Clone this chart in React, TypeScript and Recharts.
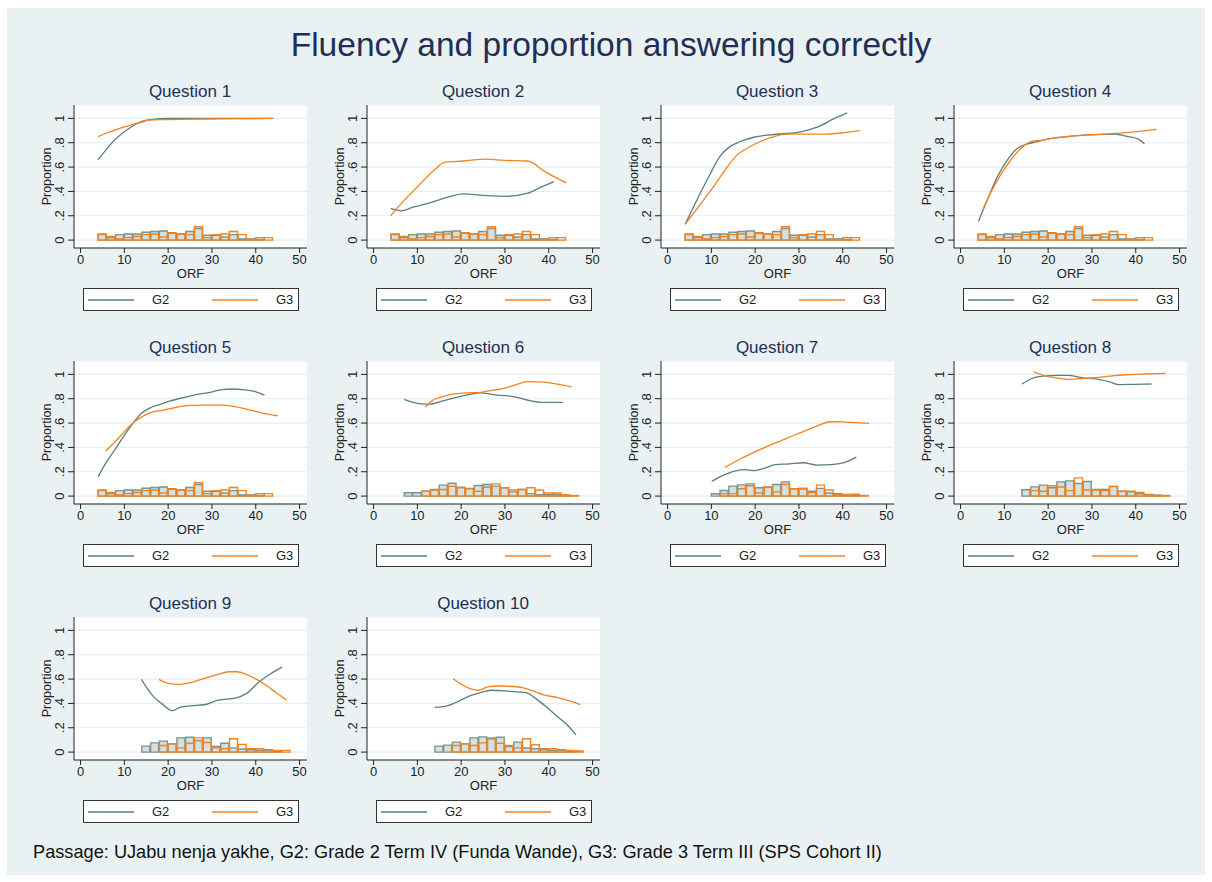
import { ComposedChart, Line, Bar, XAxis, YAxis, CartesianGrid, Legend } from 'recharts'

const FONT = '"Liberation Sans", Arial, Helvetica, sans-serif'
const NAVY = '#1f2f56'
const INK = '#222222'
const G2_COLOR = '#5b7f7a'
const G3_COLOR = '#f5821f'
const G2_FILL = '#d6e0dd'
const G2_EDGE = '#7a958f'
const BG = '#e9f1f3'

type Pt = [number, number]

// lowess curves, [ORF, proportion]
const Q1_G2: Pt[] = [[4, 0.66], [6, 0.75], [8, 0.83], [10, 0.89], [12, 0.94], [14, 0.975], [16, 0.99], [20, 1.0], [30, 1.0], [44, 1.0]]
const Q1_G3: Pt[] = [[4, 0.85], [6, 0.88], [8, 0.905], [10, 0.93], [12, 0.95], [14, 0.97], [15.5, 0.985], [20, 0.99], [30, 0.995], [44, 1.0]]
const Q2_G2: Pt[] = [[3.9, 0.26], [6.3, 0.24], [9, 0.27], [12.8, 0.305], [16.7, 0.35], [20.5, 0.38], [25.9, 0.365], [30.5, 0.36], [35.2, 0.385], [38.2, 0.435], [41.2, 0.48]]
const Q2_G3: Pt[] = [[3.9, 0.2], [7.1, 0.33], [9.8, 0.43], [14, 0.58], [16.3, 0.64], [20.5, 0.65], [25.9, 0.665], [29.8, 0.655], [35.2, 0.65], [39, 0.565], [44, 0.47]]
const Q3_G2: Pt[] = [[4, 0.13], [6.7, 0.33], [9.4, 0.52], [12, 0.69], [14.3, 0.77], [16.6, 0.81], [19.7, 0.845], [23.5, 0.865], [27.4, 0.877], [30.4, 0.89], [34.3, 0.93], [38.1, 1.0], [41, 1.046]]
const Q3_G3: Pt[] = [[4, 0.13], [7.4, 0.29], [10.5, 0.44], [13.6, 0.6], [15.9, 0.7], [18.2, 0.755], [21.2, 0.81], [24.3, 0.85], [27.4, 0.87], [35, 0.87], [39.6, 0.88], [43.9, 0.9]]
const Q4_G2: Pt[] = [[4.1, 0.155], [6.1, 0.33], [8.4, 0.52], [10.7, 0.66], [13, 0.755], [15.3, 0.79], [17.6, 0.81], [19.9, 0.83], [24.5, 0.85], [29.1, 0.864], [35.2, 0.87], [38.3, 0.85], [40.6, 0.83], [42, 0.79]]
const Q4_G3: Pt[] = [[5.1, 0.25], [6.9, 0.39], [9.2, 0.54], [11.5, 0.66], [13.8, 0.755], [16.1, 0.81], [18.4, 0.82], [21.4, 0.84], [25.3, 0.855], [29.1, 0.864], [35.2, 0.877], [39.8, 0.89], [44.8, 0.91]]
const Q5_G2: Pt[] = [[4, 0.16], [6, 0.285], [8, 0.39], [10, 0.5], [12, 0.6], [13.9, 0.68], [15.9, 0.725], [17.9, 0.75], [20.3, 0.78], [23.5, 0.81], [26.7, 0.835], [29.9, 0.855], [32.2, 0.875], [34.6, 0.88], [37, 0.875], [40.2, 0.855], [42, 0.83]]
const Q5_G3: Pt[] = [[5.7, 0.37], [8, 0.45], [10, 0.53], [12.3, 0.61], [14.7, 0.665], [16.3, 0.69], [18.7, 0.705], [21.9, 0.73], [25.1, 0.745], [28.3, 0.747], [32.2, 0.747], [34.6, 0.74], [37.8, 0.715], [41.8, 0.68], [45, 0.66]]
const Q6_G2: Pt[] = [[7, 0.795], [10.4, 0.76], [12.8, 0.755], [15.6, 0.78], [18.8, 0.81], [22, 0.835], [24.4, 0.848], [27.6, 0.832], [30.8, 0.823], [33.2, 0.807], [35.6, 0.785], [38.8, 0.77], [43.2, 0.77]]
const Q6_G3: Pt[] = [[11.8, 0.73], [13.2, 0.78], [15.6, 0.815], [18, 0.837], [21.2, 0.848], [24.4, 0.853], [27.6, 0.872], [30, 0.888], [32.4, 0.913], [35.2, 0.94], [38.8, 0.937], [42, 0.92], [45.2, 0.897]]
const Q7_G2: Pt[] = [[10.1, 0.122], [12.7, 0.17], [15.1, 0.204], [17.5, 0.217], [19.8, 0.21], [22.2, 0.23], [24.6, 0.258], [27.8, 0.264], [31, 0.274], [34.1, 0.255], [37.3, 0.258], [40.1, 0.272], [43.1, 0.32]]
const Q7_G3: Pt[] = [[13.1, 0.236], [16.7, 0.307], [19.8, 0.361], [23, 0.413], [26.2, 0.46], [29.4, 0.508], [32.5, 0.552], [34.9, 0.587], [37.1, 0.611], [39.7, 0.609], [42.9, 0.603], [46, 0.598]]
const Q8_G2: Pt[] = [[14, 0.921], [16.5, 0.97], [18.9, 0.986], [22.1, 0.992], [24.5, 0.992], [27.7, 0.973], [31.7, 0.957], [34.1, 0.938], [36, 0.916], [39.6, 0.918], [43.6, 0.921]]
const Q8_G3: Pt[] = [[16.7, 1.02], [18.9, 0.992], [22.1, 0.97], [24.9, 0.959], [27.7, 0.965], [30.9, 0.973], [34.1, 0.986], [38, 0.997], [42, 1.003], [46.8, 1.008]]
const Q9_G2: Pt[] = [[13.9, 0.598], [15.1, 0.53], [16.7, 0.454], [18.7, 0.394], [20.9, 0.34], [22.7, 0.367], [25.1, 0.38], [28.3, 0.389], [31.4, 0.427], [35.4, 0.443], [37.8, 0.48], [41, 0.584], [43.4, 0.644], [46, 0.698]]
const Q9_G3: Pt[] = [[17.9, 0.598], [20.3, 0.563], [22.7, 0.557], [25.1, 0.571], [28.3, 0.606], [31.4, 0.639], [33.8, 0.66], [35.8, 0.66], [37.8, 0.639], [40.2, 0.598], [42.6, 0.543], [44.6, 0.489], [47, 0.427]]
const Q10_G2: Pt[] = [[14, 0.367], [16.8, 0.38], [19.6, 0.421], [22, 0.462], [24.4, 0.489], [26.8, 0.508], [30, 0.503], [32.4, 0.495], [34.8, 0.489], [37.2, 0.435], [39.6, 0.367], [42, 0.291], [44.4, 0.217], [46.2, 0.141]]
const Q10_G3: Pt[] = [[18.2, 0.603], [20, 0.557], [22, 0.522], [24, 0.508], [26, 0.535], [28.4, 0.543], [30.8, 0.541], [34, 0.53], [36.4, 0.503], [38.8, 0.47], [42, 0.448], [44.8, 0.421], [47.2, 0.389]]

// histograms, [bin centre, density]
const BASE_H2: Pt[] = [[5, 0.05], [7, 0.02], [9, 0.045], [11, 0.05], [13, 0.05], [15, 0.065], [17, 0.07], [19, 0.075], [21, 0.055], [23, 0.05], [25, 0.07], [27, 0.095], [29, 0.04], [31, 0.04], [33, 0.025], [35, 0.045], [37, 0.01], [39, 0.01], [41, 0.005]]
const BASE_H3: Pt[] = [[5, 0.045], [7, 0.03], [9, 0.01], [11, 0.02], [13, 0.03], [15, 0.045], [17, 0.05], [19, 0.025], [21, 0.06], [23, 0.05], [25, 0.045], [27, 0.11], [29, 0.02], [31, 0.045], [33, 0.05], [35, 0.07], [37, 0.045], [39, 0.005], [41, 0.02], [43, 0.02]]
const Q6_H2: Pt[] = [[8, 0.027], [10, 0.027], [12, 0.04], [14, 0.054], [16, 0.09], [18, 0.105], [20, 0.073], [22, 0.063], [24, 0.087], [26, 0.095], [28, 0.082], [30, 0.068], [32, 0.035], [34, 0.054], [36, 0.02], [38, 0.012], [40, 0.012], [42, 0.012], [44, 0.005]]
const Q6_H3: Pt[] = [[12, 0.04], [14, 0.05], [16, 0.054], [18, 0.08], [20, 0.068], [22, 0.06], [24, 0.04], [26, 0.073], [28, 0.1], [30, 0.068], [32, 0.05], [34, 0.054], [36, 0.068], [38, 0.05], [40, 0.025], [42, 0.025], [44, 0.01], [46, 0.005]]
const Q7_H2: Pt[] = [[11, 0.019], [13, 0.046], [15, 0.082], [17, 0.092], [19, 0.1], [21, 0.068], [23, 0.073], [25, 0.095], [27, 0.117], [29, 0.06], [31, 0.057], [33, 0.04], [35, 0.063], [37, 0.025], [39, 0.019], [41, 0.014], [43, 0.01]]
const Q7_H3: Pt[] = [[13, 0.02], [15, 0.02], [17, 0.06], [19, 0.085], [21, 0.025], [23, 0.075], [25, 0.035], [27, 0.095], [29, 0.06], [31, 0.065], [33, 0.03], [35, 0.09], [37, 0.05], [39, 0.01], [41, 0.01], [43, 0.015], [45, 0.005]]
const Q8_H2: Pt[] = [[15, 0.052], [17, 0.076], [19, 0.09], [21, 0.068], [23, 0.117], [25, 0.125], [27, 0.103], [29, 0.12], [31, 0.054], [33, 0.054], [35, 0.079], [37, 0.04], [39, 0.035], [41, 0.019], [43, 0.014], [45, 0.008]]
const Q8_H3: Pt[] = [[17, 0.045], [19, 0.04], [21, 0.085], [23, 0.075], [25, 0.045], [27, 0.15], [29, 0.05], [31, 0.05], [33, 0.045], [35, 0.08], [37, 0.04], [39, 0.04], [41, 0.03], [43, 0.01], [45, 0.005], [47, 0.005]]
const Q9_H2: Pt[] = [[15, 0.049], [17, 0.076], [19, 0.09], [21, 0.068], [23, 0.117], [25, 0.122], [27, 0.095], [29, 0.117], [31, 0.046], [33, 0.073], [35, 0.035], [37, 0.025], [39, 0.019], [41, 0.014], [43, 0.014], [45, 0.005]]
const Q9_H3: Pt[] = [[19, 0.054], [21, 0.068], [23, 0.035], [25, 0.073], [27, 0.117], [29, 0.079], [31, 0.035], [33, 0.027], [35, 0.109], [37, 0.063], [39, 0.027], [41, 0.027], [43, 0.019], [45, 0.014], [47, 0.014]]
const Q10_H2: Pt[] = [[15, 0.049], [17, 0.057], [19, 0.082], [21, 0.068], [23, 0.117], [25, 0.125], [27, 0.109], [29, 0.122], [31, 0.046], [33, 0.082], [35, 0.033], [37, 0.027], [39, 0.019], [41, 0.014], [43, 0.014], [45, 0.008]]
const Q10_H3: Pt[] = [[19, 0.054], [21, 0.068], [23, 0.054], [25, 0.076], [27, 0.117], [29, 0.073], [31, 0.054], [33, 0.035], [35, 0.109], [37, 0.06], [39, 0.027], [41, 0.027], [43, 0.019], [45, 0.014], [47, 0.01]]

const X_TICKS = [0, 10, 20, 30, 40, 50]
const Y_TICKS = [0, 0.2, 0.4, 0.6, 0.8, 1]
const X_DOMAIN: [number, number] = [-1.5, 51.7]
const Y_DOMAIN: [number, number] = [-0.065, 1.11]
const SERIES = [
  { name: 'G2', color: G2_COLOR },
  { name: 'G3', color: G3_COLOR },
]

const QUESTIONS = [
  { title: 'Question 1', g2: Q1_G2, g3: Q1_G3, h2: BASE_H2, h3: BASE_H3 },
  { title: 'Question 2', g2: Q2_G2, g3: Q2_G3, h2: BASE_H2, h3: BASE_H3 },
  { title: 'Question 3', g2: Q3_G2, g3: Q3_G3, h2: BASE_H2, h3: BASE_H3 },
  { title: 'Question 4', g2: Q4_G2, g3: Q4_G3, h2: BASE_H2, h3: BASE_H3 },
  { title: 'Question 5', g2: Q5_G2, g3: Q5_G3, h2: BASE_H2, h3: BASE_H3 },
  { title: 'Question 6', g2: Q6_G2, g3: Q6_G3, h2: Q6_H2, h3: Q6_H3 },
  { title: 'Question 7', g2: Q7_G2, g3: Q7_G3, h2: Q7_H2, h3: Q7_H3 },
  { title: 'Question 8', g2: Q8_G2, g3: Q8_G3, h2: Q8_H2, h3: Q8_H3 },
  { title: 'Question 9', g2: Q9_G2, g3: Q9_G3, h2: Q9_H2, h3: Q9_H3 },
  { title: 'Question 10', g2: Q10_G2, g3: Q10_G3, h2: Q10_H2, h3: Q10_H3 },
]

const COL_STEP = 293.3
const ROW_STEP = 256

function histRows(h2: Pt[], h3: Pt[]) {
  const rows = new Map<number, { x: number; h2: number; h3: number }>()
  h2.forEach(([x, d]) => rows.set(x, { x, h2: d, h3: 0 }))
  h3.forEach(([x, d]) => {
    const r = rows.get(x)
    if (r) r.h3 = d
    else rows.set(x, { x, h2: 0, h3: d })
  })
  return [...rows.values()].sort((a, b) => a.x - b.x)
}

const fmtY = (v: number) => (v === 0 ? '0' : v === 1 ? '1' : String(v).replace('0.', '.'))

const YTick = (props: any) => {
  const { x, y, payload } = props
  const bx = x - 2
  return (
    <text x={bx} y={y} transform={`rotate(-90 ${bx} ${y})`} textAnchor="middle" fontSize={13} fill={INK} fontFamily={FONT}>
      {fmtY(payload.value)}
    </text>
  )
}

const YLabel = (props: any) => {
  const vb = props.viewBox
  const cx = vb.x + 40.5
  const cy = vb.y + vb.height / 2
  return (
    <text x={cx} y={cy} transform={`rotate(-90 ${cx} ${cy})`} textAnchor="middle" fontSize={12.5} fill={INK} fontFamily={FONT}>
      Proportion
    </text>
  )
}

// legend box drawn like Stata's: white box, two keys
const LegendBox = () => (
  <div
    style={{
      width: 216,
      height: 23,
      boxSizing: 'border-box',
      border: '1px solid #333',
      background: '#fff',
      position: 'relative',
      fontFamily: FONT,
      fontSize: 13,
      color: INK,
    }}
  >
    {SERIES.map((s, i) => (
      <div key={s.name} style={{ position: 'absolute', left: i === 0 ? 4 : 128, top: 0, height: 21, display: 'flex', alignItems: 'center' }}>
        <svg width={46} height={6} style={{ display: 'block' }}>
          <line x1={0} y1={3} x2={46} y2={3} stroke={s.color} strokeWidth={1.5} />
        </svg>
        <span style={{ marginLeft: 18 }}>{s.name}</span>
      </div>
    ))}
  </div>
)

function Panel({ q, idx }: { q: (typeof QUESTIONS)[number]; idx: number }) {
  const col = idx % 4
  const row = Math.floor(idx / 4)
  const ox = Math.round(col * COL_STEP)
  const oy = row * ROW_STEP
  const bars = histRows(q.h2, q.h3)
  const g2 = q.g2.map(([x, y]) => ({ x, y }))
  const g3 = q.g3.map(([x, y]) => ({ x, y }))
  return (
    <>
      <div
        style={{
          position: 'absolute',
          left: ox + 90,
          top: oy + 81,
          width: 200,
          textAlign: 'center',
          fontSize: 17,
          color: NAVY,
          fontFamily: FONT,
          lineHeight: '22px',
        }}
      >
        {q.title}
      </div>
      <div style={{ position: 'absolute', left: ox + 10, top: oy + 98 }}>
        <ComposedChart width={300} height={216} data={bars} margin={{ top: 7, right: 3, bottom: 36, left: 0 }}>
          <CartesianGrid vertical={false} stroke="#e6eef1" strokeWidth={1.2} fill="#ffffff" />
          <XAxis
            xAxisId={0}
            dataKey="x"
            type="number"
            domain={X_DOMAIN}
            ticks={X_TICKS}
            allowDataOverflow
            height={30}
            tickSize={5}
            tickMargin={2}
            axisLine={{ stroke: INK }}
            tickLine={{ stroke: INK }}
            tick={{ fontSize: 13, fill: INK, fontFamily: FONT }}
            label={{ value: 'ORF', position: 'insideBottom', offset: 0, fontSize: 13, fill: INK, fontFamily: FONT }}
          />
          <XAxis xAxisId="h3" dataKey="x" type="number" domain={X_DOMAIN} allowDataOverflow hide />
          <XAxis xAxisId="ln" dataKey="x" type="number" domain={X_DOMAIN} allowDataOverflow hide />
          <YAxis
            type="number"
            domain={Y_DOMAIN}
            ticks={Y_TICKS}
            allowDataOverflow
            width={64}
            tickSize={6}
            tickMargin={2}
            axisLine={{ stroke: INK }}
            tickLine={{ stroke: INK }}
            tick={<YTick />}
            label={{ content: <YLabel /> }}
          />
          <Bar xAxisId={0} dataKey="h2" barSize={8} fill={G2_FILL} stroke={G2_EDGE} strokeWidth={1.4} legendType="none" isAnimationActive={false} />
          <Bar xAxisId="h3" dataKey="h3" barSize={8} fill="none" stroke={G3_COLOR} strokeWidth={1.4} legendType="none" isAnimationActive={false} />
          <Line xAxisId="ln" data={g2} dataKey="y" name="G2" type="monotone" stroke={G2_COLOR} strokeWidth={1.3} dot={false} isAnimationActive={false} />
          <Line xAxisId="ln" data={g3} dataKey="y" name="G3" type="monotone" stroke={G3_COLOR} strokeWidth={1.3} dot={false} isAnimationActive={false} />
          <Legend
            layout="horizontal"
            verticalAlign="middle"
            align="center"
            wrapperStyle={{ left: 73, top: 190, width: 216, height: 23 }}
            content={<LegendBox />}
          />
        </ComposedChart>
      </div>
    </>
  )
}

export default function App() {
  return (
    <div style={{ position: 'absolute', left: 0, top: 0, width: 1212, height: 882, background: '#fff', fontFamily: FONT }}>
      <div style={{ position: 'absolute', left: 7, top: 8, width: 1198, height: 867, background: BG }} />
      <div
        style={{
          position: 'absolute',
          left: 0,
          top: 24,
          width: 1222,
          textAlign: 'center',
          fontSize: 33.5,
          color: NAVY,
          lineHeight: '42px',
        }}
      >
        Fluency and proportion answering correctly
      </div>
      {QUESTIONS.map((q, i) => (
        <Panel key={q.title} q={q} idx={i} />
      ))}
      <div style={{ position: 'absolute', left: 33, top: 840, fontSize: 18.2, color: '#111', lineHeight: '24px' }}>
        Passage: UJabu nenja yakhe, G2: Grade 2 Term IV (Funda Wande), G3: Grade 3 Term III (SPS Cohort II)
      </div>
    </div>
  )
}
